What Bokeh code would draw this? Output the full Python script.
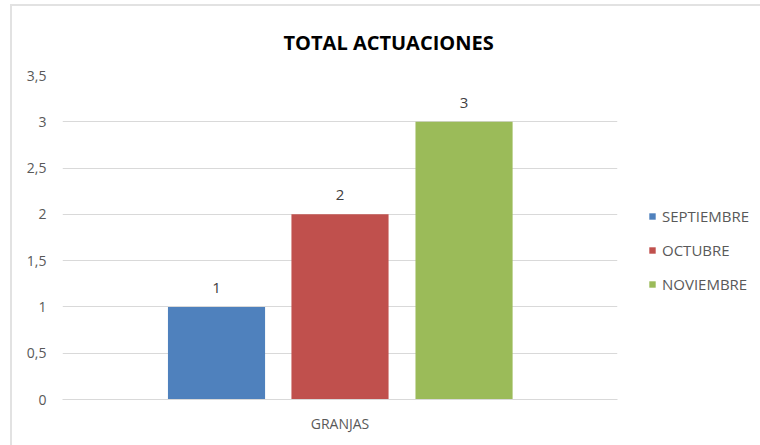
from bokeh.plotting import figure
from bokeh.models import ColumnDataSource, Legend, LegendItem, FixedTicker, Range1d, LabelSet, CustomJSTickFormatter
from bokeh.transform import dodge
from bokeh.embed import file_html
from bokeh.resources import INLINE
from bokeh.core.properties import value

categories = ["GRANJAS"]
series_names = ["SEPTIEMBRE", "OCTUBRE", "NOVIEMBRE"]
series_values = [[1], [2], [3]]
colors = ["#4F81BD", "#C0504D", "#9BBB59"]
y_ticks = [0, 0.5, 1, 1.5, 2, 2.5, 3, 3.5]

FONT = "Open Sans"

p = figure(x_range=categories, y_range=Range1d(0, 3.5), frame_width=555, frame_height=324,
           output_backend="svg", toolbar_location=None,
           min_border_left=50, min_border_right=143, min_border_top=69, min_border_bottom=46)
p.styles = {"border-left": "2px solid #e2e2e2", "border-top": "2px solid #e2e2e2",
            "margin-left": "10px", "margin-top": "4px"}
p.outline_line_color = None
p.title.text = "TOTAL ACTUACIONES"
p.title.align = "left"
p.title.offset = 221
p.title.text_font = FONT
p.title.text_font_size = "20px"
p.title.text_font_style = "bold"
p.title.text_color = "#000000"
p.title.standoff = 40

offsets = [-0.2225, 0.0, 0.2235]
renderers = []
for name, vals, col, off in zip(series_names, series_values, colors, offsets):
    src = ColumnDataSource(dict(cat=categories, val=vals, lbl=[str(v) for v in vals]))
    r = p.vbar(x=dodge("cat", off, range=p.x_range), top="val", width=0.175, source=src,
               fill_color=col, line_color=None)
    renderers.append(r)
    p.add_layout(LabelSet(x=dodge("cat", off, range=p.x_range), y="val", text="lbl", source=src,
                          text_align="center", text_baseline="bottom", y_offset=14,
                          text_font=value(FONT), text_font_size="15px", text_color="#404040"))

p.yaxis.ticker = FixedTicker(ticks=y_ticks)
p.yaxis.formatter = CustomJSTickFormatter(code="return tick.toString().replace('.', ',');")
p.yaxis.axis_line_color = None
p.yaxis.major_tick_line_color = None
p.yaxis.minor_tick_line_color = None
p.yaxis.major_label_text_font = FONT
p.yaxis.major_label_text_font_size = "14px"
p.yaxis.major_label_text_color = "#595959"
p.yaxis.major_label_standoff = 10

p.xaxis.axis_line_color = "#d9d9d9"
p.xaxis.major_tick_line_color = None
p.xaxis.minor_tick_line_color = None
p.xaxis.major_label_text_font = FONT
p.xaxis.major_label_text_font_size = "14px"
p.xaxis.major_label_text_color = "#595959"
p.xaxis.major_label_standoff = 8

p.xgrid.grid_line_color = None
p.ygrid.grid_line_color = "#d9d9d9"
p.ygrid.grid_line_width = 1

legend = Legend(items=[LegendItem(label=n, renderers=[r]) for n, r in zip(series_names, renderers)],
                location=(31, 105), glyph_width=8, glyph_height=8, label_height=20,
                spacing=14, padding=0, margin=0, label_standoff=6,
                label_text_font=FONT, label_text_font_size="15px", label_text_color="#595959",
                border_line_color=None, background_fill_alpha=0)
p.add_layout(legend, "right")

open("out.html", "w").write(file_html(p, INLINE))
